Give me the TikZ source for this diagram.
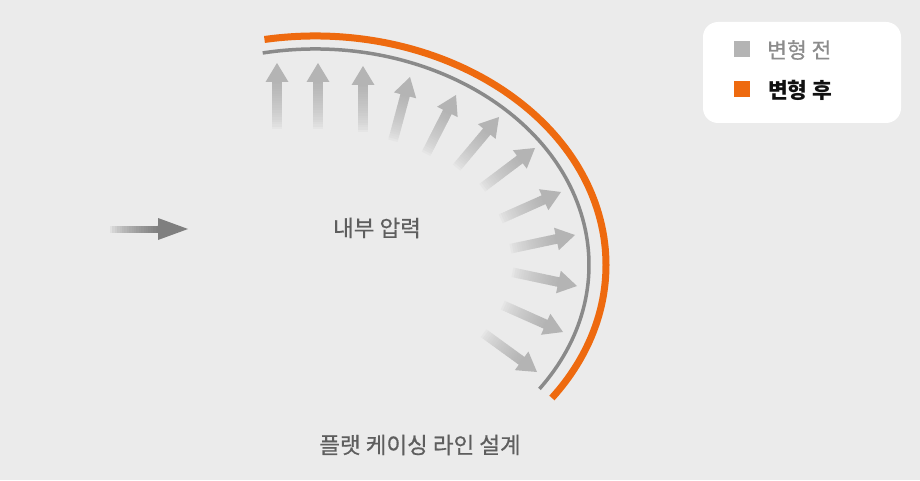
\documentclass[tikz,border=0pt]{standalone}
\usepackage{fontspec}
\setmainfont{Noto Sans CJK KR}
\newfontfamily\medfont[FakeBold=0.6]{Noto Sans CJK KR}
\definecolor{bgc}{HTML}{EBEBEB}
\definecolor{arrowgray}{HTML}{B4B4B4}
\definecolor{leftgray}{HTML}{7F7F7F}
\definecolor{arcgray}{HTML}{8A8A8A}
\definecolor{arcorange}{HTML}{EE6A0F}
\definecolor{labelgray}{HTML}{5E5E5E}
\definecolor{leggray}{HTML}{8C8C8C}
\definecolor{legdark}{HTML}{111111}
% #1 tip x (px), #2 tip y (px), #3 angle, #4 length, #5 head length, #6 head half width, #7 shaft half width, #8 colour
\newcommand\fadearrow[8]{%
  \begin{scope}[shift={(#1,{480-#2})}, rotate=#3]
    \foreach \i in {0,...,19}{%
      \pgfmathsetmacro\sa{-#4+\i*(#4-#5)/20}%
      \pgfmathsetmacro\sb{-#4+(\i+1)*(#4-#5)/20+0.4}%
      \pgfmathtruncatemacro\pp{100*((\i+0.5)/20)^0.6}%
      \fill[#8!\pp!bgc] (\sa,-#7) -- (\sb,-#7) -- (\sb,#7) -- (\sa,#7) -- cycle;
    }
    \fill[#8] (-#5-0.3,-#7) -- (-#5,-#7) -- (-#5,-#6) -- (0,0) -- (-#5,#6) -- (-#5,#7) -- (-#5-0.3,#7) -- cycle;
  \end{scope}}
\tikzset{
  legendbox/.style={fill=white, rounded corners=15pt},
  lbl/.style={inner sep=0pt, font=\medfont\fontsize{22.5}{26}\selectfont, text=labelgray},
  legtext/.style={inner sep=0pt, anchor=west, font=\medfont\fontsize{21.5}{25}\selectfont},
  swatch/.style={minimum size=16pt, inner sep=0pt, draw=none}
}
\begin{document}
\begin{tikzpicture}[x=1pt,y=1pt]
  \fill[bgc] (0,0) rectangle (920,480);
  \useasboundingbox (0,0) rectangle (920,480);

  % pressure arrows
  \fadearrow{277}{63}{90}{66}{19}{11.5}{4.8}{arrowgray}
  \fadearrow{318}{63}{90}{66}{19}{11.5}{4.8}{arrowgray}
  \fadearrow{363}{66}{90}{66}{19}{11.5}{4.8}{arrowgray}
  \fadearrow{410}{77}{75}{66}{19}{11.5}{4.8}{arrowgray}
  \fadearrow{456}{95}{63}{66}{19}{11.5}{4.8}{arrowgray}
  \fadearrow{499}{117}{50}{66}{19}{11.5}{4.8}{arrowgray}
  \fadearrow{535}{148}{37}{66}{19}{11.5}{4.8}{arrowgray}
  \fadearrow{561}{192}{24}{66}{19}{11.5}{4.8}{arrowgray}
  \fadearrow{575}{235}{12}{66}{19}{11.5}{4.8}{arrowgray}
  \fadearrow{577}{286}{-12}{66}{19}{11.5}{4.8}{arrowgray}
  \fadearrow{563}{332}{-24}{66}{19}{11.5}{4.8}{arrowgray}
  \fadearrow{537}{372}{-36}{66}{19}{11.5}{4.8}{arrowgray}

  % left arrow
  \fadearrow{188}{229}{0}{78}{30}{11}{3.5}{leftgray}

  % arcs (ellipse centre 315,215)
  \coordinate (ctr) at (315,215);
  \draw[arcgray, line width=3.5pt] ([shift={(101:274 and 216)}]ctr) arc[start angle=101, end angle=-35, x radius=274, y radius=216];
  \draw[arcorange, line width=7pt] ([shift={(100:291 and 229)}]ctr) arc[start angle=100, end angle=-35.5, x radius=291, y radius=229];

  % labels
  \node[lbl] (press) at (377,252) {내부 압력};
  \node[lbl] (title) at (420,35) {플랫 케이싱 라인 설계};

  % legend
  \fill[legendbox] (703,357) rectangle (901,458);
  \node[swatch, fill=arrowgray] (sw1) at (741.5,430.5) {};
  \node[swatch, fill=arcorange] (sw2) at (741.5,390.5) {};
  \node[legtext, text=leggray] (lt1) at (767,430) {변형 전};
  \node[legtext, text=legdark, font=\fontsize{21.5}{25}\selectfont\bfseries] (lt2) at (768,390) {변형 후};
\end{tikzpicture}
\end{document}
